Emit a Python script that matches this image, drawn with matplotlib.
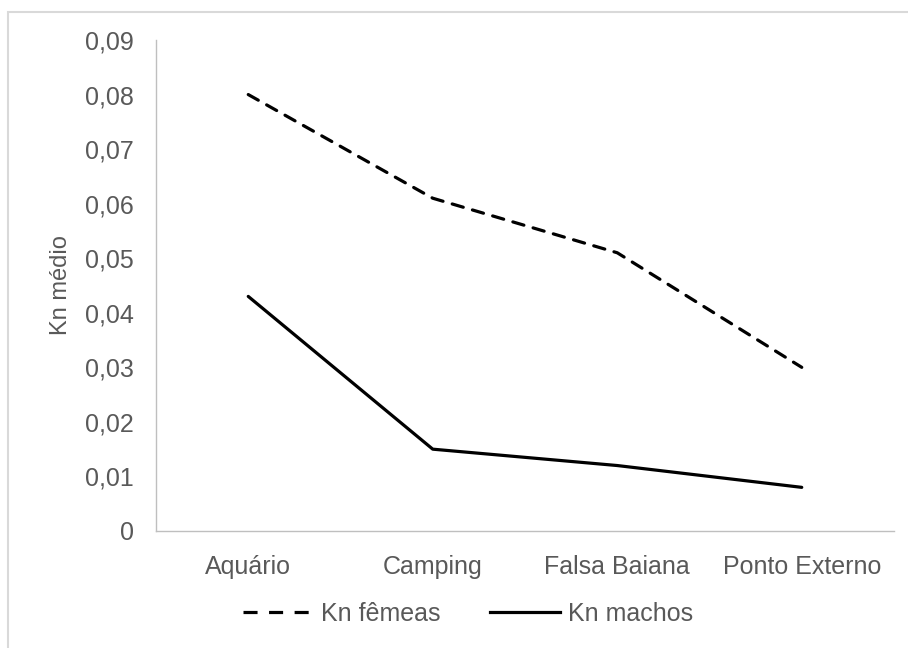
import matplotlib.pyplot as plt
from matplotlib.lines import Line2D
from matplotlib.patches import Rectangle
from matplotlib.ticker import FuncFormatter

# data
locais = ["Aquário", "Camping", "Falsa Baiana", "Ponto Externo"]
kn_femeas = [0.080, 0.061, 0.051, 0.030]
kn_machos = [0.043, 0.015, 0.012, 0.008]
y_ticks = [0, 0.01, 0.02, 0.03, 0.04, 0.05, 0.06, 0.07, 0.08, 0.09]

plt.rcParams["font.family"] = ["Liberation Sans", "DejaVu Sans"]
gray = "#595959"
dash = (0, (3.6, 3.0))

fig = plt.figure(figsize=(9.08, 6.48), dpi=100)
ax = fig.add_axes([156 / 908, 1 - 531 / 648, 738 / 908, 491 / 648])

x = range(len(locais))
ax.plot(x, kn_femeas, color="black", lw=2.3, ls=dash,
        solid_capstyle="round", dash_capstyle="round", label="Kn fêmeas")
ax.plot(x, kn_machos, color="black", lw=2.3, solid_capstyle="round",
        label="Kn machos")

ax.set_xlim(-0.5, len(locais) - 0.5)
ax.set_ylim(0, 0.09)
ax.set_yticks(y_ticks)
ax.yaxis.set_major_formatter(FuncFormatter(
    lambda v, p: "0" if v == 0 else f"{v:.2f}".replace(".", ",")))
ax.set_xticks(list(x))
ax.set_xticklabels(locais)

for s in ["top", "right"]:
    ax.spines[s].set_visible(False)
ax.spines["left"].set_color("#bfbfbf")
ax.spines["bottom"].set_color("#bfbfbf")
ax.spines["left"].set_linewidth(1)
ax.spines["bottom"].set_linewidth(1)
ax.tick_params(length=0, labelsize=18, colors=gray)
ax.tick_params(axis="y", pad=16)
ax.tick_params(axis="x", pad=17)
ax.set_ylabel("Kn médio", fontsize=17, color=gray, labelpad=9)

handles = [
    Line2D([], [], color="black", lw=2.3, ls=(0, (4.4, 3.6))),
    Line2D([], [], color="black", lw=2.3),
]
fig.legend(handles, ["Kn fêmeas", "Kn machos"], loc="center",
           bbox_to_anchor=(468 / 908, 1 - 614 / 648), ncol=2, frameon=False,
           fontsize=18, labelcolor=gray, handlelength=2.8, handletextpad=0.3,
           columnspacing=2.0)

# outer chart border
fig.patches.append(Rectangle((8 / 908, -0.1), 1.2, 1 - 12 / 648 + 0.1,
                             transform=fig.transFigure, fill=False,
                             edgecolor="#d9d9d9", lw=1.5))

fig.savefig("out.png", dpi=100)
